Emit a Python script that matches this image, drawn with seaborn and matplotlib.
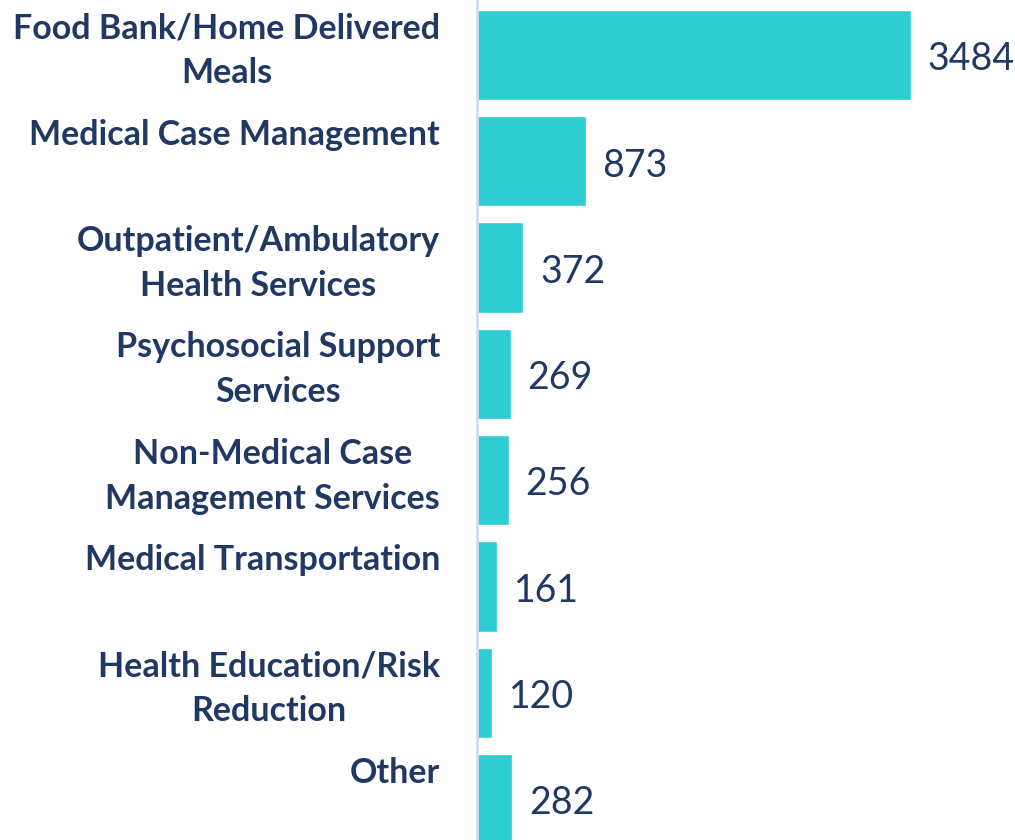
import matplotlib
matplotlib.use("Agg")
import matplotlib.pyplot as plt
import seaborn as sns
import pandas as pd

categories = [
    "Food Bank/Home Delivered\nMeals",
    "Medical Case Management",
    "Outpatient/Ambulatory\nHealth Services",
    "Psychosocial Support\nServices",
    "Non-Medical Case\nManagement Services",
    "Medical Transportation",
    "Health Education/Risk\nReduction",
    "Other",
]
values = [3484, 873, 372, 269, 256, 161, 120, 282]

df = pd.DataFrame({"service": categories, "count": values})

sns.set_theme(style="white")
plt.rcParams["font.family"] = ["Lato", "DejaVu Sans"]

navy = "#1F3864"
teal = "#2ECDD3"

fig = plt.figure(figsize=(10.15, 8.4), dpi=100)
ax = fig.add_axes([477 / 1015, 0, 1 - 477 / 1015, 1])

sns.barplot(data=df, y="service", x="count", orient="h", color=teal,
            width=0.85, saturation=1, ax=ax)

ax.set_xlim(0, 4318)
ax.set_ylim(7.385, -0.517)
ax.set_xlabel("")
ax.set_ylabel("")
ax.set_xticks([])
ax.set_yticks([])
for s in ["top", "right", "bottom"]:
    ax.spines[s].set_visible(False)
ax.spines["left"].set_color("#D3DAEC")
ax.spines["left"].set_linewidth(2)

for i, (lab, v) in enumerate(zip(categories, values)):
    ax.text(-297, i - 0.40, lab, ha="right", va="top", multialignment="center",
            fontsize=24.5, fontweight="bold", color=navy, linespacing=1.5,
            clip_on=False)
    ax.text(v + 135, i + 0.04, str(v), ha="left", va="center",
            fontsize=27, color=navy)

fig.savefig("out.png", dpi=100)
